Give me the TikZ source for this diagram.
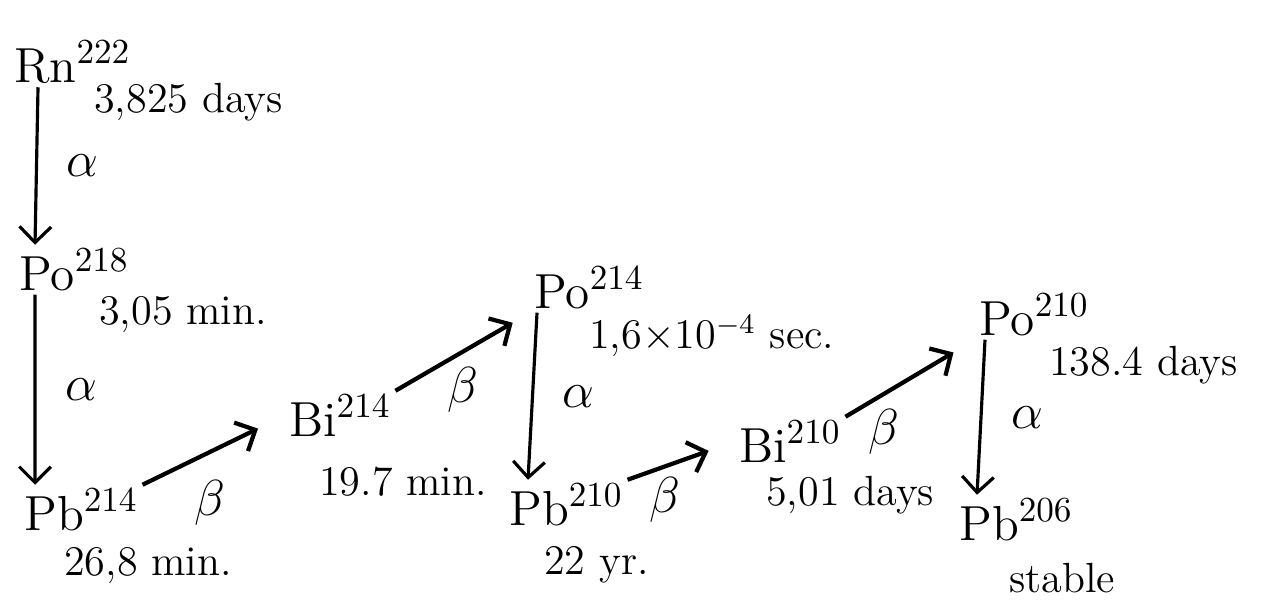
\documentclass[tikz,border=0pt]{standalone}
\usepackage{amsmath,amssymb}
\usetikzlibrary{arrows.meta}

\begin{document}
\begin{tikzpicture}[x=0.01cm,y=-0.01cm,>={Straight Barb[length=4.5pt,width=9pt]},
  iso/.style={font=\fontsize{14}{17}\selectfont,inner sep=1pt,anchor=base west},
  life/.style={font=\fontsize{12}{14}\selectfont,inner sep=1pt,anchor=west},
  ray/.style={font=\fontsize{15}{18}\selectfont,inner sep=1pt},
  decay/.style={->,line width=0.9pt},
  emit/.style={->,line width=1.2pt}]
  \useasboundingbox (0,0) rectangle (1270,600);
  % decay chain of radon-222, half-life written beside each isotope
  \node[iso] (rn222) at (10,82) {Rn$^{222}$};
  \node[iso] (po218) at (15,290) {Po$^{218}$};
  \node[iso] (pb214) at (20,530) {Pb$^{214}$};
  \node[iso] (bi214) at (285,436) {Bi$^{214}$};
  \node[iso] (po214) at (530,308) {Po$^{214}$};
  \node[iso] (pb210) at (505,525) {Pb$^{210}$};
  \node[iso] (bi210) at (735,462) {Bi$^{210}$};
  \node[iso] (po210) at (975,335) {Po$^{210}$};
  \node[iso] (pb206) at (955,540) {Pb$^{206}$};

  \node[life] (t-rn222) at (90,102) {3,825 days};
  \node[life] (t-po218) at (95,315) {3,05 min.};
  \node[life] (t-pb214) at (60,566) {26,8 min.};
  \node[life] (t-bi214) at (315,482) {19.7 min.};
  \node[life] (t-po214) at (585,336) {1,6$\times$10$^{-4}$ sec.};
  \node[life] (t-pb210) at (540,565) {22 yr.};
  \node[life] (t-bi210) at (762,495) {5,01 days};
  \node[life] (t-po210) at (1045,365) {138.4 days};
  \node[life] (t-pb206) at (1005,578) {stable};

  \draw[decay] ([xshift=0.28cm]rn222.south west) --
    node[ray,right=0.25cm] {$\alpha$} ([xshift=0.2cm]po218.north west);
  \draw[decay] ([xshift=0.2cm]po218.south west) --
    node[ray,right=0.25cm] {$\alpha$} ([xshift=0.15cm]pb214.north west);
  \draw[emit,shorten >=0.3cm] (pb214.north east) --
    node[ray,pos=0.47,below=0.22cm] {$\beta$} (bi214.west);
  \draw[emit,shorten >=0.2cm] (bi214.north east) --
    node[ray,pos=0.5,below=0.1cm] {$\beta$} (po214.south west);
  \draw[decay] ([xshift=0.07cm]po214.south west) --
    node[ray,right=0.25cm] {$\alpha$} ([xshift=0.23cm]pb210.north west);
  \draw[emit,shorten >=0.28cm] (pb210.north east) --
    node[ray,pos=0.35,below=0.05cm] {$\beta$} (bi210.west);
  \draw[emit,shorten >=0.25cm] (bi210.north east) --
    node[ray,pos=0.3,below=0.1cm] {$\beta$} (po210.south west);
  \draw[decay] ([xshift=0.1cm]po210.south west) --
    node[ray,right=0.25cm] {$\alpha$} ([xshift=0.22cm]pb206.north west);
\end{tikzpicture}
\end{document}
